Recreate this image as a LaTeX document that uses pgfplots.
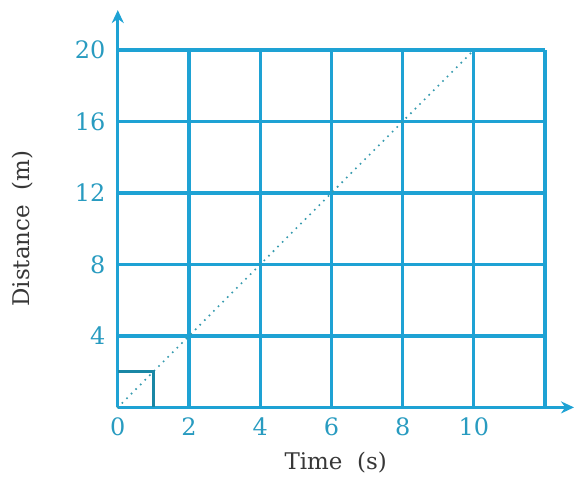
\documentclass[border=0pt]{standalone}
\usepackage{fontspec}
\setmainfont{DejaVu Serif}
\usepackage{pgfplots}
\pgfplotsset{compat=1.18}
\usetikzlibrary{arrows.meta}
\definecolor{gridblue}{RGB}{30,162,212}
\definecolor{ticklab}{RGB}{40,155,192}
\definecolor{dotteal}{RGB}{55,155,175}
\definecolor{sqteal}{RGB}{25,135,165}
\definecolor{labgray}{RGB}{55,55,55}
\begin{document}
\begin{tikzpicture}
\begin{axis}[
  scale only axis, width=428pt, height=358pt,
  xmin=0, xmax=12, ymin=0, ymax=20,
  clip=false,
  axis lines=left,
  axis line style={gridblue, line width=3.2pt},
  x axis line style={-{Stealth[length=13pt,width=12pt]}, shorten >=-29pt},
  y axis line style={-{Stealth[length=13pt,width=12pt]}, shorten >=-40pt},
  xtick={0,2,...,12}, xticklabels={0,2,4,6,8,10,},
  ytick={0,4,...,20}, yticklabels={,4,8,12,16,20},
  major tick length=0pt,
  grid=major, major grid style={gridblue, line width=3.2pt},
  /pgf/number format/assume math mode=true,
  tick label style={font=\fontsize{24}{27}\selectfont, text=ticklab},
  xticklabel style={yshift=-7pt},
  yticklabel style={xshift=-9pt},
  label style={font=\fontsize{23}{26}\selectfont, text=labgray},
  xlabel={Time\ \ (s)},
  ylabel={Distance\ \ (m)},
  xlabel style={at={(axis description cs:0.51,-0.155)}, anchor=center},
  ylabel style={at={(axis description cs:-0.224,0.5)}, anchor=center},
]
\addplot[dotteal, line width=2.3pt, line cap=round, dash pattern=on 0pt off 6.5pt] coordinates {(0,0) (10,20)};
\addplot[sqteal, line width=2.8pt] coordinates {(0,2) (1,2) (1,0)};
\path (axis description cs:-0.2757,-0.207) (axis description cs:1.0,1.14);
\end{axis}
\end{tikzpicture}
\end{document}
